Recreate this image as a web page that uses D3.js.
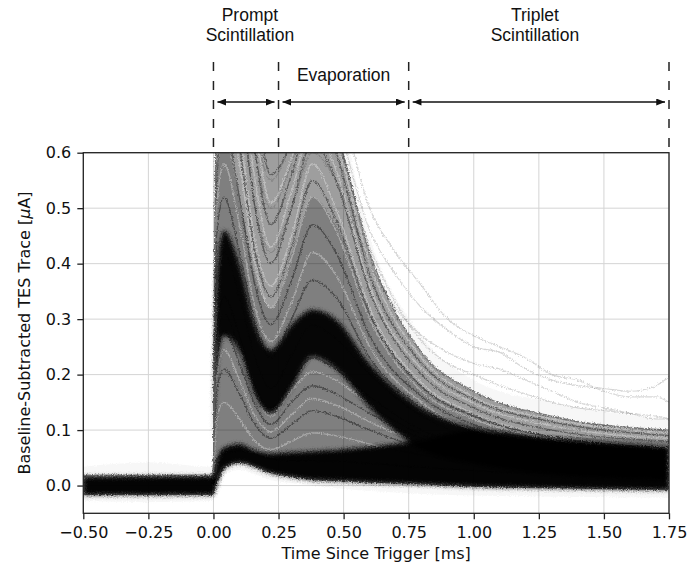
<!DOCTYPE html>
<html>
<head>
<meta charset="utf-8">
<script src="https://cdn.jsdelivr.net/npm/d3@7"></script>
<style>
  body { margin: 0; background: #fff; }
  svg { display: block; }
</style>
</head>
<body>
<div id="chart"></div>
<script>
// ---- Data (time in ms, current in uA) ----

// Density bands of the trace cloud
const bandTime = [-0.5, -0.25, -0.002, 0.012, 0.04, 0.1, 0.16, 0.22, 0.3, 0.38, 0.47, 0.6, 0.8, 1.0, 1.3, 1.75];
const faintLo  = [-0.028, -0.03, -0.028, -0.012, 0.018, 0.028, 0.02, 0.01, 0.004, 0.0, -0.005, -0.01, -0.015, -0.018, -0.02, -0.022];
const faintHi  = [0.034, 0.042, 0.034, 0.8, 0.8, 0.8, 0.8, 0.8, 0.8, 0.8, 0.7, 0.45, 0.27, 0.19, 0.15, 0.12];
const grayHi   = [0.02, 0.02, 0.02, 0.72, 0.72, 0.72, 0.72, 0.72, 0.72, 0.72, 0.64, 0.42, 0.24, 0.17, 0.125, 0.10];
const denseHi  = [0.018, 0.018, 0.018, 0.55, 0.62, 0.52, 0.38, 0.32, 0.42, 0.52, 0.47, 0.31, 0.18, 0.13, 0.092, 0.08];
const coreLo   = [-0.017, -0.017, -0.017, 0.0, 0.03, 0.041, 0.033, 0.022, 0.015, 0.01, 0.008, 0.005, 0.002, -0.002, -0.005, -0.008];
const coreHi   = [0.016, 0.017, 0.017, 0.045, 0.068, 0.075, 0.063, 0.058, 0.06, 0.062, 0.064, 0.07, 0.082, 0.1, 0.086, 0.07];

// Dark band of the main pulse family (merges into the core in the tail)
const mainTime = [0.003, 0.012, 0.04, 0.1, 0.16, 0.22, 0.3, 0.38, 0.47, 0.6, 0.8, 1.0, 1.3, 1.75];
const mainLo   = [0.06, 0.2, 0.27, 0.24, 0.16, 0.13, 0.175, 0.232, 0.21, 0.14, 0.065, 0.04, 0.02, 0.01];
const mainHi   = [0.14, 0.38, 0.46, 0.40, 0.29, 0.245, 0.29, 0.317, 0.30, 0.22, 0.14, 0.105, 0.086, 0.07];

// Individual pulse traces
const traceTime = [0, 0.012, 0.04, 0.1, 0.16, 0.22, 0.3, 0.38, 0.47, 0.6, 0.8, 1.0, 1.3, 1.75];
const traces = [
  [0, 0.9, 1.1, 0.9, 0.7, 0.56, 0.62, 0.72, 0.64, 0.42, 0.24, 0.17, 0.125, 0.10],
  [0, 0.85, 1.05, 0.86, 0.65, 0.51, 0.59, 0.70, 0.62, 0.40, 0.23, 0.16, 0.12, 0.095],
  [0, 0.8, 1.0, 0.82, 0.6, 0.47, 0.56, 0.68, 0.6, 0.38, 0.22, 0.155, 0.115, 0.09],
  [0, 0.78, 0.95, 0.77, 0.55, 0.43, 0.53, 0.65, 0.57, 0.36, 0.21, 0.148, 0.108, 0.085],
  [0, 0.75, 0.9, 0.72, 0.5, 0.40, 0.5, 0.62, 0.55, 0.35, 0.2, 0.14, 0.10, 0.08],
  [0, 0.65, 0.8, 0.64, 0.44, 0.36, 0.45, 0.58, 0.5, 0.32, 0.185, 0.13, 0.09, 0.07],
  [0, 0.62, 0.76, 0.61, 0.42, 0.34, 0.43, 0.55, 0.48, 0.31, 0.178, 0.125, 0.088, 0.068],
  [0, 0.6, 0.72, 0.58, 0.4, 0.32, 0.41, 0.52, 0.46, 0.30, 0.17, 0.12, 0.085, 0.065],
  [0, 0.55, 0.65, 0.52, 0.36, 0.29, 0.37, 0.47, 0.42, 0.27, 0.16, 0.11, 0.08, 0.06],
  [0, 0.5, 0.58, 0.47, 0.32, 0.26, 0.33, 0.42, 0.38, 0.25, 0.15, 0.10, 0.072, 0.055],
  [0, 0.45, 0.52, 0.42, 0.29, 0.23, 0.30, 0.37, 0.34, 0.23, 0.14, 0.095, 0.067, 0.05],
  [0, 0.33, 0.42, 0.34, 0.23, 0.175, 0.235, 0.29, 0.265, 0.20, 0.125, 0.085, 0.058, 0.045],
  [0, 0.27, 0.34, 0.27, 0.18, 0.14, 0.19, 0.23, 0.21, 0.16, 0.10, 0.07, 0.05, 0.04],
  [0, 0.245, 0.31, 0.245, 0.16, 0.125, 0.17, 0.205, 0.19, 0.145, 0.092, 0.065, 0.048, 0.038],
  [0, 0.22, 0.28, 0.22, 0.145, 0.11, 0.15, 0.18, 0.165, 0.13, 0.085, 0.06, 0.045, 0.035],
  [0, 0.19, 0.245, 0.19, 0.125, 0.097, 0.128, 0.157, 0.145, 0.115, 0.076, 0.055, 0.041, 0.032],
  [0, 0.17, 0.21, 0.165, 0.11, 0.085, 0.11, 0.135, 0.125, 0.10, 0.068, 0.05, 0.038, 0.03],
  [0, 0.12, 0.15, 0.12, 0.08, 0.065, 0.08, 0.095, 0.09, 0.075, 0.055, 0.04, 0.032, 0.026],
  [0, 0.045, 0.058, 0.062, 0.056, 0.048, 0.045, 0.045, 0.044, 0.04, 0.033, 0.027, 0.022, 0.02]
];

// A few faint outliers with long triplet tails
const outlierTime = [0, 0.012, 0.04, 0.1, 0.16, 0.22, 0.3, 0.38, 0.47, 0.6, 0.7, 0.8, 0.9, 1.0, 1.1, 1.2, 1.3, 1.4, 1.5, 1.6, 1.7, 1.75];
const outliers = [
  [0, 0.95, 1.2, 1.0, 0.75, 0.6, 0.7, 0.82, 0.72, 0.5, 0.42, 0.36, 0.30, 0.27, 0.25, 0.23, 0.2, 0.19, 0.17, 0.16, 0.16, 0.15],
  [0, 0.85, 1.0, 0.85, 0.65, 0.55, 0.62, 0.74, 0.66, 0.46, 0.38, 0.32, 0.28, 0.25, 0.24, 0.21, 0.19, 0.18, 0.175, 0.17, 0.18, 0.196],
  [0, 0.7, 0.85, 0.7, 0.5, 0.42, 0.5, 0.6, 0.55, 0.4, 0.32, 0.27, 0.24, 0.22, 0.21, 0.19, 0.17, 0.15, 0.14, 0.13, 0.12, 0.12],
  [0, 0.8, 0.95, 0.8, 0.6, 0.5, 0.58, 0.7, 0.63, 0.43, 0.33, 0.26, 0.22, 0.2, 0.18, 0.165, 0.15, 0.14, 0.135, 0.13, 0.125, 0.12]
];

// Axis ticks
const xTicks = [-0.5, -0.25, 0, 0.25, 0.5, 0.75, 1.0, 1.25, 1.5, 1.75];
const yTicks = [0.0, 0.1, 0.2, 0.3, 0.4, 0.5, 0.6];

// Phase annotations
const phaseBounds = [0, 0.25, 0.75, 1.75];
const phaseArrows = [[0, 0.25], [0.25, 0.75], [0.75, 1.75]];
const phaseLabels = [
  { lines: ['Prompt', 'Scintillation'], t: 0.14, row: 0 },
  { lines: ['Evaporation'], t: 0.5, row: 3 },
  { lines: ['Triplet', 'Scintillation'], t: 1.235, row: 0 }
];

// ---- Layout ----
const W = 690, H = 565;
const margin = { top: 152.7, right: 21, bottom: 51.7, left: 83.3 };

const x = d3.scaleLinear().domain([-0.5, 1.75]).range([margin.left, W - margin.right]);
const y = d3.scaleLinear().domain([-0.05, 0.6]).range([H - margin.bottom, margin.top]);

const svg = d3.select('#chart').append('svg')
  .attr('width', W)
  .attr('height', H);

const defs = svg.append('defs');

defs.append('clipPath').attr('id', 'plot-clip')
  .append('rect')
  .attr('x', x.range()[0])
  .attr('y', y.range()[1])
  .attr('width', x.range()[1] - x.range()[0])
  .attr('height', y.range()[0] - y.range()[1]);

// Fine grain so the edges look like noisy traces
const noise = defs.append('filter').attr('id', 'grain')
  .attr('x', '-5%').attr('y', '-5%').attr('width', '110%').attr('height', '110%');
noise.append('feTurbulence')
  .attr('type', 'fractalNoise')
  .attr('baseFrequency', '0.8')
  .attr('numOctaves', 2)
  .attr('seed', 3)
  .attr('result', 'turb');
noise.append('feDisplacementMap')
  .attr('in', 'SourceGraphic')
  .attr('in2', 'turb')
  .attr('scale', 4)
  .attr('xChannelSelector', 'R')
  .attr('yChannelSelector', 'G')
  .attr('result', 'disp');
noise.append('feGaussianBlur')
  .attr('in', 'disp')
  .attr('stdDeviation', 0.6);

// Soft edge for the dense bands
defs.append('filter').attr('id', 'soft')
  .attr('x', '-5%').attr('y', '-5%').attr('width', '110%').attr('height', '110%')
  .append('feGaussianBlur').attr('stdDeviation', 2);

defs.append('marker')
  .attr('id', 'arrowhead')
  .attr('viewBox', '0 0 10 8')
  .attr('refX', 10)
  .attr('refY', 4)
  .attr('markerWidth', 9)
  .attr('markerHeight', 7)
  .attr('markerUnits', 'userSpaceOnUse')
  .attr('orient', 'auto-start-reverse')
  .append('path')
  .attr('d', 'M0,0 L10,4 L0,8 Z')
  .attr('fill', '#111');

// ---- Grid ----
const grid = svg.append('g').attr('stroke', '#d4d4d4').attr('stroke-width', 1);
grid.selectAll('line.gx').data(xTicks).join('line')
  .attr('x1', d => x(d)).attr('x2', d => x(d))
  .attr('y1', y.range()[0]).attr('y2', y.range()[1]);
grid.selectAll('line.gy').data(yTicks).join('line')
  .attr('x1', x.range()[0]).attr('x2', x.range()[1])
  .attr('y1', d => y(d)).attr('y2', d => y(d));

// ---- Trace cloud ----
const plot = svg.append('g').attr('clip-path', 'url(#plot-clip)')
  .append('g').attr('filter', 'url(#grain)');

const band = (time, lo, hi) => d3.area()
  .x((d, i) => x(time[i]))
  .y0((d, i) => y(lo[i]))
  .y1((d, i) => y(hi[i]))
  .curve(d3.curveMonotoneX)(time);

const trace = (time, vals) => d3.line()
  .x((d, i) => x(time[i]))
  .y(d => y(d))
  .curve(d3.curveMonotoneX)(vals);

plot.append('path').attr('d', band(bandTime, faintLo, faintHi))
  .attr('fill', '#000').attr('fill-opacity', 0.03);

plot.selectAll('path.outlier').data(outliers).join('path')
  .attr('class', 'outlier')
  .attr('d', d => trace(outlierTime, d))
  .attr('fill', 'none').attr('stroke', '#000')
  .attr('stroke-opacity', 0.16).attr('stroke-width', 1.2);

plot.append('path').attr('d', band(bandTime, coreLo, grayHi))
  .attr('fill', '#000').attr('fill-opacity', 0.36);

plot.append('path').attr('d', band(bandTime, coreLo, denseHi))
  .attr('fill', '#000').attr('fill-opacity', 0.2);

// alternate dark and light strokes so the cloud shows streaks
plot.selectAll('path.trace').data(traces).join('path')
  .attr('class', 'trace')
  .attr('d', d => trace(traceTime, d))
  .attr('fill', 'none')
  .attr('stroke', (d, i) => i % 2 ? '#fff' : '#000')
  .attr('stroke-opacity', (d, i) => i % 2 ? 0.32 : 0.4)
  .attr('stroke-width', 1.4);

const dense = plot.append('g').attr('filter', 'url(#soft)');

dense.append('path').attr('d', band(mainTime, mainLo, mainHi))
  .attr('fill', '#000').attr('fill-opacity', 0.95);

dense.append('path').attr('d', band(bandTime, coreLo, coreHi))
  .attr('fill', '#000').attr('fill-opacity', 0.97);

// ---- Frame and axes ----
svg.append('rect')
  .attr('x', x.range()[0]).attr('y', y.range()[1])
  .attr('width', x.range()[1] - x.range()[0])
  .attr('height', y.range()[0] - y.range()[1])
  .attr('fill', 'none').attr('stroke', '#222').attr('stroke-width', 1.3);

const fmtX = d3.format('.2f');
const fmtY = d3.format('.1f');

const xAxis = svg.append('g')
  .attr('transform', `translate(0,${y.range()[0]})`)
  .call(d3.axisBottom(x).tickValues(xTicks).tickFormat(fmtX).tickSize(6).tickPadding(7));
const yAxis = svg.append('g')
  .attr('transform', `translate(${x.range()[0]},0)`)
  .call(d3.axisLeft(y).tickValues(yTicks).tickFormat(fmtY).tickSize(6).tickPadding(6));

[xAxis, yAxis].forEach(a => {
  a.select('.domain').remove();
  a.selectAll('line').attr('stroke', '#222').attr('stroke-width', 1.3);
  a.selectAll('text')
    .attr('fill', '#111')
    .style('font-family', '"DejaVu Sans", sans-serif')
    .style('font-size', '16px');
});

svg.append('text')
  .attr('x', (x.range()[0] + x.range()[1]) / 2)
  .attr('y', 559)
  .attr('text-anchor', 'middle')
  .attr('fill', '#111')
  .style('font-family', '"DejaVu Sans", sans-serif')
  .style('font-size', '16px')
  .text('Time Since Trigger [ms]');

const yLabel = svg.append('text')
  .attr('transform', `translate(29.5,${(y.range()[0] + y.range()[1]) / 2}) rotate(-90)`)
  .attr('text-anchor', 'middle')
  .attr('fill', '#111')
  .style('font-family', '"DejaVu Sans", sans-serif')
  .style('font-size', '16px');
yLabel.append('tspan').text('Baseline-Subtracted TES Trace [');
yLabel.append('tspan').style('font-style', 'italic').text('\u03bc');
yLabel.append('tspan').text('A]');

// ---- Phase annotations ----
const ann = svg.append('g');

ann.selectAll('line.bound').data(phaseBounds).join('line')
  .attr('x1', d => x(d)).attr('x2', d => x(d))
  .attr('y1', 62).attr('y2', y.range()[1])
  .attr('stroke', '#222').attr('stroke-width', 1.5)
  .attr('stroke-dasharray', '9,10');

ann.selectAll('line.span').data(phaseArrows).join('line')
  .attr('x1', d => x(d[0]) + 4).attr('x2', d => x(d[1]) - 4)
  .attr('y1', 102).attr('y2', 102)
  .attr('stroke', '#111').attr('stroke-width', 1.5)
  .attr('marker-start', 'url(#arrowhead)')
  .attr('marker-end', 'url(#arrowhead)');

phaseLabels.forEach(p => {
  const txt = ann.append('text')
    .attr('text-anchor', 'middle')
    .attr('fill', '#111')
    .style('font-family', '"Liberation Sans", Arial, sans-serif')
    .style('font-size', '17.5px');
  p.lines.forEach((ln, i) => {
    txt.append('tspan')
      .attr('x', x(p.t))
      .attr('y', 20.5 + (p.row + i) * 20.2)
      .text(ln);
  });
});
</script>
</body>
</html>
